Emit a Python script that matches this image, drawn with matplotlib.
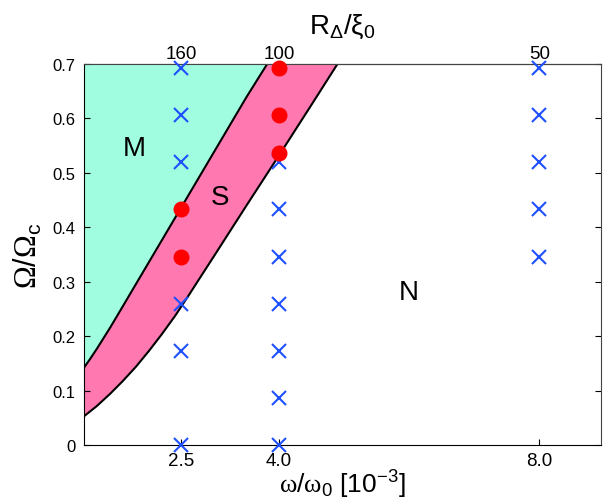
import matplotlib
matplotlib.use('Agg')
import matplotlib.pyplot as plt
import numpy as np

plt.rcParams['font.family'] = ['Liberation Sans', 'DejaVu Sans']
plt.rcParams['mathtext.fontset'] = 'custom'
plt.rcParams['mathtext.rm'] = 'Liberation Serif'
plt.rcParams['mathtext.sf'] = 'Liberation Sans'
plt.rcParams['mathtext.it'] = 'Liberation Sans:italic'
plt.rcParams['mathtext.bf'] = 'Liberation Sans:bold'


# --- Phase boundaries --- #

# M / S boundary
upper_x = [1.0, 1.1, 1.2, 1.3, 1.4, 1.5, 2.0, 2.5, 3.0, 3.5, 3.82]
upper_y = [0.142, 0.159, 0.177, 0.196, 0.215, 0.235, 0.336, 0.437, 0.538,
           0.639, 0.70]
# S / N boundary
lower_x = [1.0, 1.2, 1.4, 1.6, 1.8, 2.0, 2.2, 2.4, 2.6, 3.0, 3.5, 4.0,
           4.5, 4.9]
lower_y = [0.053, 0.072, 0.094, 0.118, 0.144, 0.173, 0.204, 0.237, 0.273,
           0.347, 0.440, 0.532, 0.625, 0.70]

# --- Simulation points --- #

cross_x = [2.5] * 6 + [4.0] * 7 + [8.0] * 5
cross_y = [0.0, 0.173, 0.26, 0.52, 0.606, 0.693,
           0.0, 0.0866, 0.173, 0.26, 0.346, 0.433, 0.52,
           0.346, 0.433, 0.52, 0.606, 0.693]
dot_x = [2.5, 2.5, 4.0, 4.0, 4.0]
dot_y = [0.346, 0.433, 0.537, 0.606, 0.693]

x_ticks = [2.5, 4.0, 8.0]
x_ticklabels = ['2.5', '4.0', '8.0']
top_ticklabels = ['160', '100', '50']
y_ticks = [0, 0.1, 0.2, 0.3, 0.4, 0.5, 0.6, 0.7]
y_ticklabels = ['0', '0.1', '0.2', '0.3', '0.4', '0.5', '0.6', '0.7']

phase_labels = ['M', 'S', 'N']
phase_pos = [(1.77, 0.546), (3.1, 0.456), (6.0, 0.282)]

fig = plt.figure(figsize=(6.03, 5.02), dpi=100)
ax = fig.add_axes([0.139, 0.111, 0.858, 0.760])

# Filled regions
cyan_x = list(upper_x) + [1.0]
cyan_y = list(upper_y) + [0.7]
ax.fill(cyan_x, cyan_y, color='#a0fde0', lw=0)
pink_x = list(upper_x) + lower_x[::-1]
pink_y = list(upper_y) + lower_y[::-1]
ax.fill(pink_x, pink_y, color='#ff78b0', lw=0)

ax.plot(upper_x, upper_y, color='black', lw=1.5)
ax.plot(lower_x, lower_y, color='black', lw=1.5)

ax.plot(cross_x, cross_y, ls='none', marker='x', ms=10, mew=1.5,
        color='#1f50ff', clip_on=False, zorder=5)
ax.plot(dot_x, dot_y, ls='none', marker='o', ms=10.5, color='#ff0000',
        clip_on=False, zorder=6)

for lab, (px, py) in zip(phase_labels, phase_pos):
    ax.text(px, py, lab, fontsize=20, ha='center', va='center')

ax.set_xlim(1.0, 8.95)
ax.set_ylim(0, 0.7)
ax.set_xticks(x_ticks)
ax.set_xticklabels(x_ticklabels)
ax.set_yticks(y_ticks)
ax.set_yticklabels(y_ticklabels)
ax.tick_params(direction='in', length=4, right=True, colors='black')
ax.tick_params(axis='x', labelsize=13.5, pad=5)
ax.tick_params(axis='y', labelsize=12, pad=6)

for side in ['top', 'right']:
    ax.spines[side].set_color('#444444')

ax.set_xlabel('$\\mathrm{ω}$/$\\mathrm{ω}_\\mathsf{0}$ [10$^\\mathsf{-3}$]',
              fontsize=19, labelpad=-1)
ax.set_ylabel('$\\mathrm{Ω}$/$\\mathrm{Ω}_\\mathsf{c}$', fontsize=22,
              labelpad=6)

top = ax.secondary_xaxis('top')
top.set_xticks(x_ticks)
top.set_xticklabels(top_ticklabels)
top.tick_params(direction='in', length=0, labelsize=13.5, pad=1)
top.set_xlabel('R$_\\mathsf{Δ}$/ξ$_\\mathsf{0}$', fontsize=20, labelpad=9)

fig.savefig('out.png', dpi=100)
